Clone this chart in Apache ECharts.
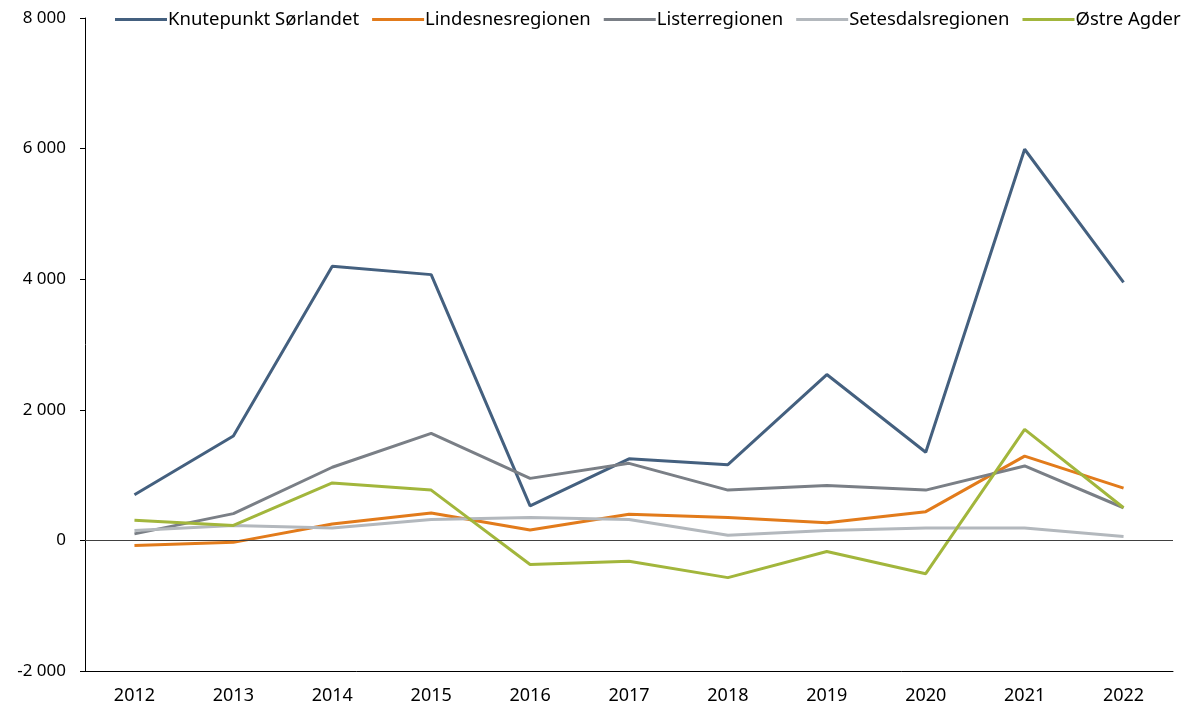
<!DOCTYPE html>
<html>
<head>
<meta charset="utf-8">
<script src="https://cdn.jsdelivr.net/npm/echarts@6/dist/echarts.min.js"></script>
<style>
  html, body { margin: 0; padding: 0; background: #fff; }
  #main { width: 1187px; height: 713px; }
</style>
</head>
<body>
<div id="main"></div>
<script>
var years = ['2012', '2013', '2014', '2015', '2016', '2017', '2018', '2019', '2020', '2021', '2022'];
var knutepunkt = [700, 1600, 4200, 4070, 530, 1250, 1160, 2540, 1350, 5990, 3950];
var lindesnes = [-80, -30, 250, 420, 160, 400, 350, 270, 440, 1290, 800];
var lister = [100, 410, 1120, 1640, 950, 1180, 770, 840, 770, 1140, 500];
var setesdal = [150, 230, 190, 320, 350, 320, 80, 150, 190, 190, 60];
var ostre = [310, 230, 880, 770, -370, -320, -570, -170, -510, 1700, 500];

var font = '"Noto Sans", Lato, sans-serif';

function fmt(v) {
  var s = String(Math.abs(v)).replace(/\B(?=(\d{3})+(?!\d))/g, ' ');
  return (v < 0 ? '-' : '') + s;
}

function line(name, data, color) {
  return {
    name: name,
    type: 'line',
    data: data,
    symbol: 'none',
    lineStyle: { width: 3, color: color },
    itemStyle: { color: color }
  };
}

var series = [
  line('Knutepunkt Sørlandet', knutepunkt, '#44607f'),
  line('Lindesnesregionen', lindesnes, '#e27b1b'),
  line('Listerregionen', lister, '#7a7f86'),
  line('Setesdalsregionen', setesdal, '#b3b8bd'),
  line('Østre Agder', ostre, '#a2b63c')
];
// zero line
series[0].markLine = {
  silent: true,
  symbol: 'none',
  label: { show: false },
  lineStyle: { color: '#404040', width: 1, type: 'solid' },
  data: [{ yAxis: 0 }]
};

var myChart = echarts.init(document.getElementById('main'));
myChart.setOption({
  animation: false,
  grid: { left: 85, right: 14, top: 18, bottom: 42 },
  legend: {
    top: 10,
    left: 115,
    width: 1072,
    padding: 0,
    icon: 'rect',
    itemWidth: 52,
    itemHeight: 3,
    itemGap: 13,
    textStyle: { fontFamily: font, fontSize: 18.5, color: '#000', padding: [0, 0, 0, -4] },
    data: series.map(function (s) { return s.name; })
  },
  xAxis: {
    type: 'category',
    data: years,
    boundaryGap: true,
    axisLine: { onZero: false, lineStyle: { color: '#000', width: 1 } },
    axisTick: { inside: true, length: 5, lineStyle: { color: '#000' } },
    axisLabel: { fontFamily: font, fontSize: 18, color: '#000', margin: 16 }
  },
  yAxis: {
    type: 'value',
    min: -2000,
    max: 8000,
    interval: 2000,
    axisLine: { show: true, lineStyle: { color: '#000', width: 1 } },
    axisTick: { show: true, length: 5, lineStyle: { color: '#000' } },
    splitLine: { show: false },
    axisLabel: { fontFamily: font, fontSize: 17, color: '#000', margin: 19, formatter: fmt }
  },
  series: series
});
</script>
</body>
</html>
